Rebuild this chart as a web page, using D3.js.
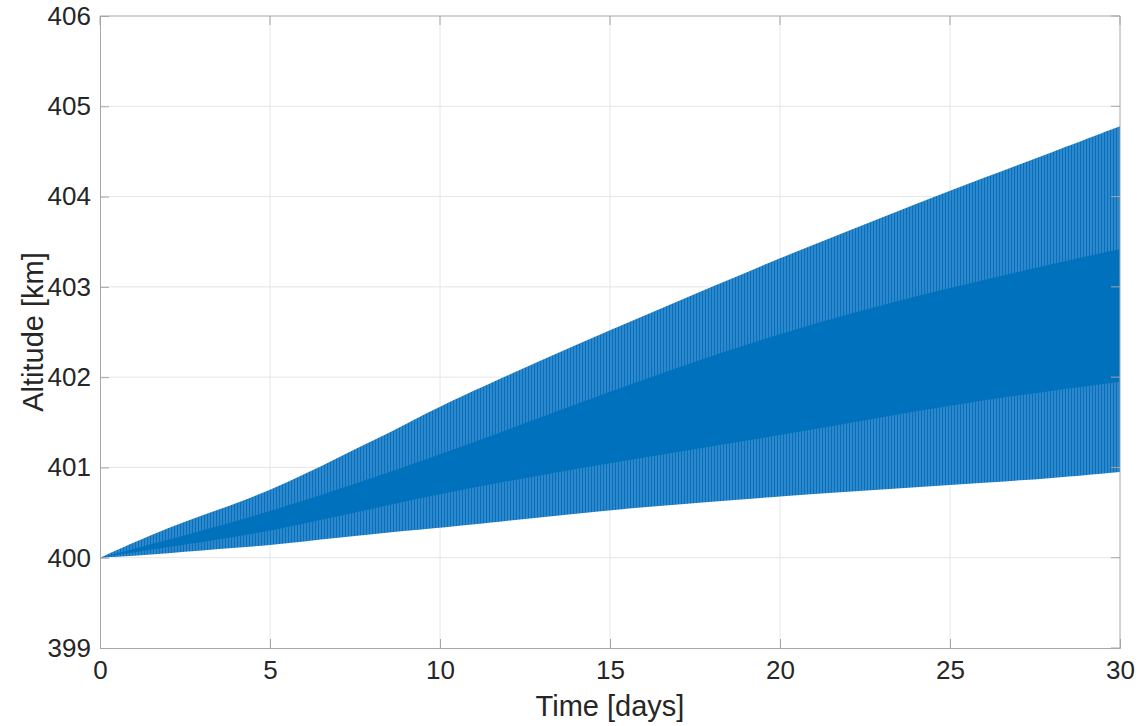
<!DOCTYPE html>
<html>
<head>
<meta charset="utf-8">
<script src="https://cdn.jsdelivr.net/npm/d3@7"></script>
<style>
  body { margin: 0; background: #fff; }
  text { font-family: "Liberation Sans", Arial, sans-serif; fill: #262626; }
</style>
</head>
<body>
<svg id="chart" width="1140" height="726"></svg>
<script>
// envelope of the altitude oscillation
const days  = [0, 1, 2, 3, 4, 5, 6, 7, 8, 9, 10, 12, 14, 16, 18, 20, 22, 24, 26, 28, 30];
const upper = [400, 400.17, 400.33, 400.47, 400.6, 400.75, 400.92, 401.11, 401.29, 401.48, 401.68,
               402.02, 402.36, 402.68, 403.0, 403.32, 403.62, 403.92, 404.21, 404.49, 404.78];
const lower = [400, 400.02, 400.05, 400.08, 400.11, 400.14, 400.18, 400.22, 400.26, 400.3, 400.33,
               400.41, 400.49, 400.56, 400.62, 400.68, 400.73, 400.78, 400.83, 400.88, 400.95];

// dense (dark) core where the oscillations overlap
const coreDays   = [0, 2, 5, 10, 15, 20, 25, 30];
const coreTop    = [400, 400.2, 400.5, 401.13, 401.85, 402.5, 403.0, 403.42];
const coreBottom = [400, 400.12, 400.28, 400.72, 401.05, 401.35, 401.7, 401.95];

const xTicks = [0, 5, 10, 15, 20, 25, 30];
const yTicks = [399, 400, 401, 402, 403, 404, 405, 406];

const margin = {left: 100, right: 20, top: 16, bottom: 78};
const W = 1140, H = 726;

const svg = d3.select("#chart");

const x = d3.scaleLinear().domain([0, 30]).range([margin.left, W - margin.right]);
const y = d3.scaleLinear().domain([399, 406]).range([H - margin.bottom, margin.top]);

// stripe pattern for the lighter outer part of the band
const defs = svg.append("defs");
const pat = defs.append("pattern")
  .attr("id", "stripes")
  .attr("patternUnits", "userSpaceOnUse")
  .attr("width", 3).attr("height", 10);
pat.append("rect").attr("width", 3).attr("height", 10).attr("fill", "#2c88cc");
pat.append("rect").attr("width", 1).attr("height", 10).attr("fill", "#0a6fb8");

// grid
const g = svg.append("g");
g.selectAll(".vgrid").data(xTicks.slice(1, -1)).enter().append("line")
  .attr("x1", d => x(d)).attr("x2", d => x(d))
  .attr("y1", y(399)).attr("y2", y(406))
  .attr("stroke", "#e6e6e6").attr("stroke-width", 1);
g.selectAll(".hgrid").data(yTicks.slice(1, -1)).enter().append("line")
  .attr("x1", x(0)).attr("x2", x(30))
  .attr("y1", d => y(d)).attr("y2", d => y(d))
  .attr("stroke", "#e6e6e6").attr("stroke-width", 1);

// outer band
const band = days.map((d, i) => ({t: d, hi: upper[i], lo: lower[i]}));
const area = d3.area()
  .x(d => x(d.t))
  .y0(d => y(d.lo))
  .y1(d => y(d.hi))
  .curve(d3.curveBasis);
svg.append("path").datum(band)
  .attr("d", area)
  .attr("fill", "url(#stripes)");

// dense core
const core = coreDays.map((d, i) => ({t: d, hi: coreTop[i], lo: coreBottom[i]}));
svg.append("path").datum(core)
  .attr("d", area)
  .attr("fill", "#0072bd");

// axes
const axisColor = "#a6a6a6";
const xAxis = svg.append("g")
  .attr("transform", `translate(0,${y(399)})`)
  .call(d3.axisBottom(x).tickValues(xTicks).tickSize(-9).tickPadding(22).tickFormat(d3.format("d")));
const yAxis = svg.append("g")
  .attr("transform", `translate(${x(0)},0)`)
  .call(d3.axisLeft(y).tickValues(yTicks).tickSize(-9).tickPadding(9).tickFormat(d3.format("d")));

[xAxis, yAxis].forEach(a => {
  a.select(".domain").attr("stroke", axisColor);
  a.selectAll(".tick line").attr("stroke", axisColor);
  a.selectAll(".tick text").style("font-size", "26px").attr("fill", "#262626");
});
xAxis.selectAll(".tick text").attr("dy", "0.35em");

// top and right box lines with ticks
svg.append("line")
  .attr("x1", x(0)).attr("x2", x(30)).attr("y1", y(406)).attr("y2", y(406))
  .attr("stroke", axisColor);
svg.append("line")
  .attr("x1", x(30)).attr("x2", x(30)).attr("y1", y(406)).attr("y2", y(399))
  .attr("stroke", axisColor);
svg.selectAll(".ttick").data(xTicks).enter().append("line")
  .attr("x1", d => x(d)).attr("x2", d => x(d))
  .attr("y1", y(406)).attr("y2", y(406) + 9)
  .attr("stroke", axisColor);
svg.selectAll(".rtick").data(yTicks).enter().append("line")
  .attr("x1", x(30) - 9).attr("x2", x(30))
  .attr("y1", d => y(d)).attr("y2", d => y(d))
  .attr("stroke", axisColor);

// labels
svg.append("text")
  .attr("x", (x(0) + x(30)) / 2)
  .attr("y", 716)
  .attr("text-anchor", "middle")
  .style("font-size", "29px")
  .text("Time [days]");

svg.append("text")
  .attr("transform", `translate(43,${(y(399) + y(406)) / 2}) rotate(-90)`)
  .attr("text-anchor", "middle")
  .style("font-size", "29px")
  .text("Altitude [km]");
</script>
</body>
</html>
